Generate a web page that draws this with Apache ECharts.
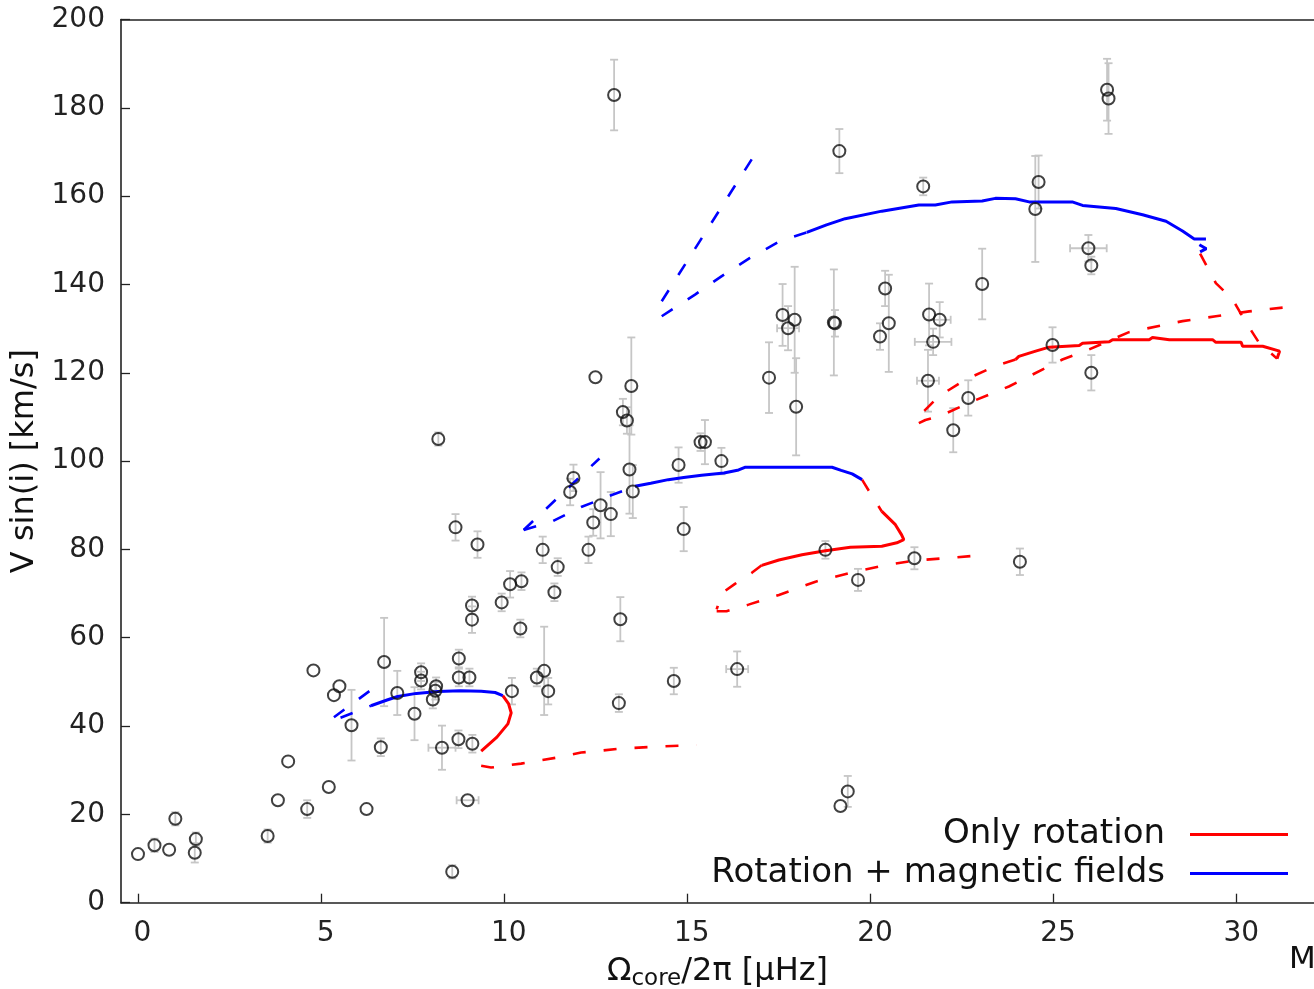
<!DOCTYPE html>
<html><head><meta charset="utf-8">
<script src="https://cdn.jsdelivr.net/npm/echarts@6/dist/echarts.min.js"></script>
<style>html,body{margin:0;padding:0;background:#fff}#c{width:1314px;height:989px}</style>
</head><body><div id="c"></div>
<script>
// ---- data ----
const xTickValues = [0, 5, 10, 15, 20, 25, 30];
const yTickValues = [0, 20, 40, 60, 80, 100, 120, 140, 160, 180, 200];

// observed stars: [Omega_core/2pi, V sin i, yErr, xErr]
const observations = [
  [0.00,11.0,0,0],[0.45,13.0,1.5,0],[0.85,12.0,0,0],[1.02,19.0,1.5,0],[1.58,14.4,1.5,0],[1.55,11.3,2.2,0],
  [3.54,15.1,1.5,0],[3.82,23.2,0,0],[4.10,32.0,0,0],[4.62,21.2,2,0],[4.79,52.6,0,0],[5.21,26.2,0,0],
  [5.35,47.0,0,0],[5.50,49.0,0,0],[5.83,40.2,8,0],[6.24,21.2,0,0],[6.63,35.2,2,0],[6.72,54.5,10,0],
  [7.08,47.5,5,0],[7.55,42.8,6,0],[7.73,52.2,2,0],[7.73,50.3,2,0],[8.05,46.0,2,0],[8.14,49.0,2,0],
  [8.12,48.0,2,0],[8.30,35.1,5,0.37],[8.58,7.0,1.5,0],[8.76,55.3,2,0],[8.76,51.0,2,0],[9.05,51.0,2,0],
  [8.75,37.0,2,0],[9.13,36.0,2,0],[9.00,23.2,0,0.3],[9.12,67.3,2,0],[9.12,64.1,3,0],[9.93,68.0,2,0],
  [10.16,72.1,3,0],[10.47,72.8,2,0],[10.44,62.1,2,0],[10.21,47.9,3,0],[10.89,51.0,2,0],[11.09,52.5,10,0],
  [11.20,47.9,3,0],[8.20,105.0,1.5,0],[8.67,85.0,3,0],[9.27,81.1,3,0],[11.05,79.9,3,0],[11.46,76.0,2,0],
  [11.37,70.3,2,0],[11.89,96.2,3,0],[11.80,93.0,3,0],[12.30,79.9,3,0],[12.43,86.1,3,0],[12.63,90.0,7.5,0],
  [12.91,88.0,5,0],[12.49,119.0,0,0],[13.24,111.1,3,0],[13.35,109.2,3,0],[13.47,117.0,11,0],[13.42,98.1,10,0],
  [13.51,93.1,6,0],[13.17,64.2,5,0],[13.13,45.2,2,0],[14.76,99.1,4,0],[14.90,84.6,5,0],[15.36,104.3,2,0],
  [15.48,104.3,5,0],[15.93,100.0,3,0],[17.23,118.9,8,0],[17.97,112.3,11,0],[14.63,50.2,3,0],[16.36,52.9,4,0.3],
  [13.00,182.9,8,0],[19.15,170.2,5,0],[21.44,162.2,2,0],[17.60,133.1,7,0],[17.93,132.0,12,0],[17.75,130.1,5,0.3],
  [19.00,131.4,12,0],[19.03,131.2,3,0],[20.40,139.1,4,0],[20.50,131.2,11,0],[20.26,128.2,3,0],[21.60,133.2,7,0],
  [21.89,132.0,4,0.3],[21.71,127.0,3,0.5],[21.57,118.2,7,0.3],[22.67,114.3,4,0],[22.26,107.0,5,0],[23.05,140.1,8,0],
  [24.59,163.2,6,0],[24.50,157.1,12,0],[25.95,148.2,3,0.5],[26.03,144.3,2,0],[24.97,126.3,4,0],[26.03,120.0,4,0],
  [21.20,78.0,2.5,0],[24.08,77.2,3,0],[26.46,184.1,7,0],[26.50,182.1,8,0],[18.77,79.9,2,0],[19.66,73.1,2.5,0],
  [19.18,21.9,0,0],[19.38,25.2,3.5,0]
];

// Rotation + magnetic fields (blue)
const magLowSolid = [[6.36,44.6],[6.8,45.9],[7.09,46.7],[7.6,47.4],[8.19,47.8],[8.8,48.0],[9.37,47.9],[9.75,47.6],[9.96,46.9]];
const magLowDashA = [[5.35,42.0],[6.35,48.1]];
const magLowDashB = [[5.53,41.9],[6.36,44.6]];
const magMidSolid = [[13.57,94.3],[14.0,95.0],[14.48,95.8],[14.9,96.3],[15.39,96.8],[16.0,97.3],[16.4,98.0],[16.57,98.6],[17.5,98.6],[18.13,98.6],[18.95,98.6],[19.2,97.9],[19.5,97.1],[19.77,95.8]];
const magMidDashA = [[10.53,84.4],[12.6,100.6]];
const magMidDashB = [[10.53,84.4],[11.3,86.3],[12.1,89.6],[12.9,92.2],[13.57,94.3]];
const magUpSolid = [[18.26,151.8],[18.8,153.5],[19.31,154.9],[20.31,156.6],[21.32,158.0],[21.77,158.0],[22.23,158.7],[23.05,158.9],[23.41,159.5],[23.96,159.4],[24.33,158.7],[25.51,158.7],[25.79,157.9],[26.7,157.2],[27.43,155.8],[28.07,154.3],[28.52,152.1],[28.84,150.3],[29.16,150.3]];
const magUpTail = [[28.98,149.0],[29.17,148.1],[29.0,147.4]];
const magUpDashA = [[14.3,136.2],[16.9,170.2]];
const magUpDashB = [[14.3,132.8],[15.21,137.7],[15.94,141.9],[16.71,146.0],[17.53,149.8],[18.26,151.8]];

// Only rotation (red)
const rotLowSolid = [[9.96,46.9],[10.12,45.0],[10.19,43.0],[10.1,40.5],[9.8,37.5],[9.37,34.3]];
const rotLowDash = [[9.37,31.0],[9.64,30.6],[10.46,31.5],[11.4,32.8],[12.1,34.0],[13.2,34.9],[14.3,35.4],[15.25,35.7]];
const rotMidDashTop = [[19.77,95.8],[20.05,92.0],[20.31,88.6]];
const rotMidSolid = [[20.31,88.6],[20.68,85.6],[20.85,83.3],[20.91,82.2],[20.72,81.5],[20.31,80.7],[19.45,80.5],[18.77,79.7],[18.13,78.8],[17.5,77.6],[17.03,76.4]];
const rotMidDashA = [[17.03,76.4],[16.76,74.7],[16.3,72.2],[15.94,70.1],[15.8,66.4]];
const rotMidDashB = [[15.8,66.0],[16.07,66.0],[16.67,67.5],[17.5,69.7],[18.5,72.7],[19.4,74.6],[20.4,76.4],[21.22,77.5],[22.2,78.1],[22.91,78.6]];
const rotUpDashTop = [[29.0,147.0],[29.43,140.3],[29.89,136.6],[30.26,131.3],[30.61,126.8],[31.1,123.2]];
const rotUpSolid = [[31.1,123.2],[31.17,124.9],[30.71,126.0],[30.16,126.0],[30.12,126.9],[29.43,126.9],[29.34,127.5],[28.16,127.5],[27.7,128.0],[27.61,127.5],[26.61,127.5],[26.52,127.0],[25.79,126.7],[25.7,126.2],[24.88,125.8],[24.51,124.9],[24.05,123.7],[23.96,123.0]];
const rotUpDashA = [[23.96,123.0],[23.41,121.5],[22.6,118.5],[21.87,114.7],[21.41,110.9],[21.32,108.6]];
const rotUpDashB = [[21.32,108.6],[21.5,109.3],[21.87,110.1],[22.78,113.5],[23.78,116.9],[25.24,123.0],[25.97,125.3],[27.06,129.2],[28.52,131.7],[29.43,132.8],[30.34,133.9],[31.62,135.1]];

const ROT = 'Only rotation';
const MAG = 'Rotation + magnetic fields';
const FONT = 'DejaVu Sans';

function seg(name, data, color, dashed) {
  return {
    type: 'line', name: name, data: data, color: color, showSymbol: false, symbol: 'none',
    z: 3, silent: true, animation: false,
    lineStyle: { color: color, width: dashed ? 2.6 : 3, type: dashed ? [13, 18] : 'solid' }
  };
}

const chart = echarts.init(document.getElementById('c'));
const axisCommon = { lineStyle: { color: '#222', width: 1.6 } };

chart.setOption({
  animation: false,
  backgroundColor: '#fff',
  grid: { left: 121, right: 0, top: 19.5, bottom: 86.3, containLabel: false, outerBoundsMode: 'none' },
  xAxis: [{
    type: 'value', min: -0.464, max: 32.11,
    axisLine: Object.assign({ show: true, onZero: false }, axisCommon),
    axisTick: { show: true, inside: true, length: 9, customValues: xTickValues, lineStyle: { color: '#222', width: 1.3 } },
    axisLabel: { customValues: xTickValues, fontSize: 28, fontFamily: FONT, color: '#222', margin: 17, padding: [0, 0, 0, 9] },
    splitLine: { show: false },
    name: '{a|Ω}{b|core}{a|/2π [μHz]}',
    nameLocation: 'middle', nameGap: 49,
    nameTextStyle: {
      rich: {
        a: { fontSize: 32, fontFamily: FONT, color: '#111', lineHeight: 40 },
        b: { fontSize: 23, fontFamily: FONT, color: '#111', lineHeight: 22, padding: [15, 0, 0, 0] }
      }
    }
  }, {
    type: 'value', position: 'top', min: -0.464, max: 32.11,
    axisLine: Object.assign({ show: true, onZero: false }, axisCommon),
    axisTick: { show: false }, axisLabel: { show: false }, splitLine: { show: false }
  }],
  yAxis: {
    type: 'value', min: 0, max: 200, interval: 20,
    axisLine: Object.assign({ show: true, onZero: false }, axisCommon),
    axisTick: { show: true, inside: true, length: 9, lineStyle: { color: '#222', width: 1.3 } },
    axisLabel: { fontSize: 28, fontFamily: FONT, color: '#222', margin: 16 },
    splitLine: { show: false },
    name: 'V sin(i) [km/s]', nameLocation: 'middle', nameRotate: 90, nameGap: 70,
    nameTextStyle: { fontSize: 32, fontFamily: FONT, color: '#111' }
  },
  legend: {
    data: [{ name: ROT, icon: 'rect' }, { name: MAG, icon: 'rect' }],
    orient: 'vertical', align: 'right', right: 26, top: 815, padding: 0,
    itemWidth: 98, itemHeight: 3, itemGap: 0, selectedMode: false,
    textStyle: { fontSize: 34, fontFamily: FONT, color: '#111', lineHeight: 39, padding: [0, 20, 0, 0] }
  },
  graphic: [{
    type: 'text', left: 1289, top: 944,
    style: { text: 'M', fontSize: 31, fontFamily: FONT, fill: '#111' }
  }],
  series: [
    {
      type: 'custom', name: 'errors', data: observations, z: 1, silent: true,
      renderItem: function (params, api) {
        const x = api.value(0), y = api.value(1), ey = api.value(2), ex = api.value(3);
        const style = { stroke: '#c6c6c6', lineWidth: 1.8 };
        const cap = 4;
        const ch = [];
        if (ey > 0) {
          const p1 = api.coord([x, y + ey]), p2 = api.coord([x, y - ey]);
          ch.push({ type: 'line', shape: { x1: p1[0], y1: p1[1], x2: p2[0], y2: p2[1] }, style: style });
          ch.push({ type: 'line', shape: { x1: p1[0] - cap, y1: p1[1], x2: p1[0] + cap, y2: p1[1] }, style: style });
          ch.push({ type: 'line', shape: { x1: p2[0] - cap, y1: p2[1], x2: p2[0] + cap, y2: p2[1] }, style: style });
        }
        if (ex > 0) {
          const q1 = api.coord([x - ex, y]), q2 = api.coord([x + ex, y]);
          ch.push({ type: 'line', shape: { x1: q1[0], y1: q1[1], x2: q2[0], y2: q2[1] }, style: style });
          ch.push({ type: 'line', shape: { x1: q1[0], y1: q1[1] - cap, x2: q1[0], y2: q1[1] + cap }, style: style });
          ch.push({ type: 'line', shape: { x1: q2[0], y1: q2[1] - cap, x2: q2[0], y2: q2[1] + cap }, style: style });
        }
        return { type: 'group', children: ch };
      }
    },
    seg(ROT, rotLowSolid, '#ff0000', false),
    seg(ROT + ' ', rotLowDash, '#ff0000', true),
    seg(ROT + ' ', rotMidDashTop, '#ff0000', true),
    seg(ROT, rotMidSolid, '#ff0000', false),
    seg(ROT + ' ', rotMidDashA, '#ff0000', true),
    seg(ROT + ' ', rotMidDashB, '#ff0000', true),
    seg(ROT + ' ', rotUpDashTop, '#ff0000', true),
    seg(ROT, rotUpSolid, '#ff0000', false),
    seg(ROT + ' ', rotUpDashA, '#ff0000', true),
    seg(ROT + ' ', rotUpDashB, '#ff0000', true),
    seg(MAG, magLowSolid, '#0000ff', false),
    seg(MAG + ' ', magLowDashA, '#0000ff', true),
    seg(MAG + ' ', magLowDashB, '#0000ff', true),
    seg(MAG, magMidSolid, '#0000ff', false),
    seg(MAG + ' ', magMidDashA, '#0000ff', true),
    seg(MAG + ' ', magMidDashB, '#0000ff', true),
    seg(MAG, magUpSolid, '#0000ff', false),
    seg(MAG, magUpTail, '#0000ff', false),
    seg(MAG + ' ', magUpDashA, '#0000ff', true),
    seg(MAG + ' ', magUpDashB, '#0000ff', true),
    {
      type: 'scatter', name: 'stars', data: observations, z: 4, silent: true,
      symbol: 'circle', symbolSize: 12,
      itemStyle: { color: 'rgba(255,255,255,0)', borderColor: '#111', borderWidth: 2 }
    }
  ]
});
</script>
</body></html>
